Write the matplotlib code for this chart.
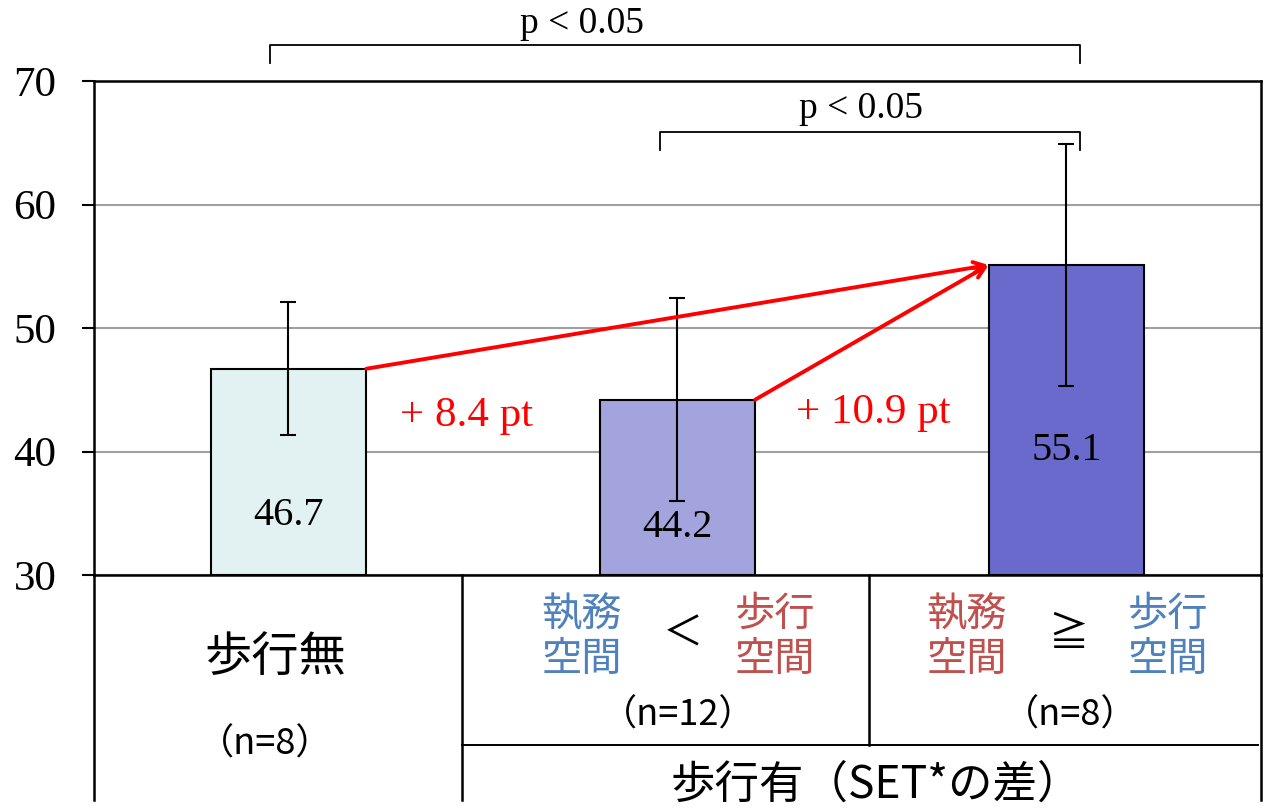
import matplotlib

matplotlib.use("Agg")
import matplotlib.pyplot as plt
from matplotlib.lines import Line2D

plt.rcParams["font.family"] = ["Noto Sans CJK JP", "DejaVu Sans"]

SERIF = "Liberation Serif"
COL_BLUE = "#4F81BD"
COL_RED = "#C0504D"
COL_ARROW = "#FF0000"

# 平均値と標準偏差
groups = ["歩行無", "執務<歩行", "執務≧歩行"]
means = [46.7, 44.2, 55.1]
sds = [5.4, 8.2, 9.8]
counts = [8, 12, 8]
bar_colors = ["#E2F2F2", "#A3A3DE", "#6A6ACC"]
yticks = [30, 40, 50, 60, 70]

fig = plt.figure(figsize=(12.66, 8.10), dpi=100)
ax = fig.add_axes([0.0742, 0.2901, 0.9218, 0.6099])

x = list(range(len(means)))
ax.bar(x, [m - 30 for m in means], bottom=30, width=0.4, color=bar_colors,
       edgecolor="black", linewidth=1.5, zorder=2)
ax.errorbar(x, means, yerr=sds, fmt="none", ecolor="black", elinewidth=1.5,
            capsize=6, capthick=1.5, zorder=3)

ax.set_xlim(-0.5, 2.5)
ax.set_ylim(30, 70)
ax.set_yticks(yticks)
ax.set_yticklabels([str(v) for v in yticks], fontfamily=SERIF, fontsize=31)
ax.tick_params(axis="y", direction="out", length=9, width=1.5, pad=18)
ax.set_xticks([])
ax.yaxis.grid(True, color="#A0A0A0", linewidth=1.5, zorder=0)
ax.set_axisbelow(True)
for s in ax.spines.values():
    s.set_linewidth(1.8)
    s.set_color("black")

# 棒の中の値
label_y = [34.05, 33.1, 39.3]
for xi, m, ly in zip(x, means, label_y):
    ax.text(xi, ly, f"{m:.1f}", ha="center", va="baseline",
            fontfamily=SERIF, fontsize=29, zorder=4)

# 差を示す矢印
for src, lx, ly in [(0, 0.459, 42.09), (1, 1.503, 42.28)]:
    ax.annotate("", xy=(2 - 0.2, means[2]), xytext=(src + 0.2, means[src]),
                arrowprops=dict(arrowstyle="->,head_length=0.8,head_width=0.4",
                                color=COL_ARROW, lw=2.8, shrinkA=0, shrinkB=0),
                zorder=5)
    ax.text(lx, ly, f"+ {means[2] - means[src]:.1f} pt", ha="center",
            va="baseline", color=COL_ARROW, fontfamily=SERIF, fontsize=31)


def bracket(x0, x1, y_top, y_end, text, tx, ty):
    ax.plot([x0, x0, x1, x1], [y_end, y_top, y_top, y_end], color="black",
            lw=1.3, clip_on=False, solid_joinstyle="round")
    ax.text(tx, ty, text, ha="center", va="baseline", fontfamily=SERIF,
            fontsize=27)


bracket(-0.048, 2.035, 72.91, 71.46, "p < 0.05", 0.754, 73.9)
bracket(0.955, 2.035, 65.87, 64.41, "p < 0.05", 1.472, 67.0)


# 下の表の罫線
def seg(xs, ys, lw=1.8):
    ax.add_line(Line2D(xs, ys, color="black", lw=lw, clip_on=False))


seg([-0.5, -0.5], [30, 11.8])
seg([2.5, 2.5], [30, 11.8])
seg([0.446, 0.446], [30, 11.8])
seg([1.492, 1.492], [30, 16.24])
seg([0.446, 2.492], [16.24, 16.24], lw=1.4)

ax.text(-0.035, 23.28, "歩行無", ha="center", va="center", fontsize=34)
ax.text(-0.06, 16.24, f"（n={counts[0]}）", ha="center", va="center", fontsize=26)

ax.text(0.7545, 24.98, "執務\n空間", ha="center", va="center", fontsize=29,
        color=COL_BLUE, linespacing=1.12)
ax.text(1.014, 25.2, "＜", ha="center", va="center", fontsize=29)
ax.text(1.2506, 24.98, "歩行\n空間", ha="center", va="center", fontsize=29,
        color=COL_RED, linespacing=1.12)
ax.text(1.001, 18.66, f"（n={counts[1]}）", ha="center", va="center", fontsize=26)

ax.text(1.744, 24.98, "執務\n空間", ha="center", va="center", fontsize=29,
        color=COL_RED, linespacing=1.12)
ax.text(2.004, 25.2, "≧", ha="center", va="center", fontsize=29)
ax.text(2.261, 24.98, "歩行\n空間", ha="center", va="center", fontsize=29,
        color=COL_BLUE, linespacing=1.12)
ax.text(2.009, 18.66, f"（n={counts[2]}）", ha="center", va="center", fontsize=26)

ax.text(1.51, 13.0, "歩行有（SET*の差）", ha="center", va="center", fontsize=32)

fig.savefig("out.png", dpi=100)
